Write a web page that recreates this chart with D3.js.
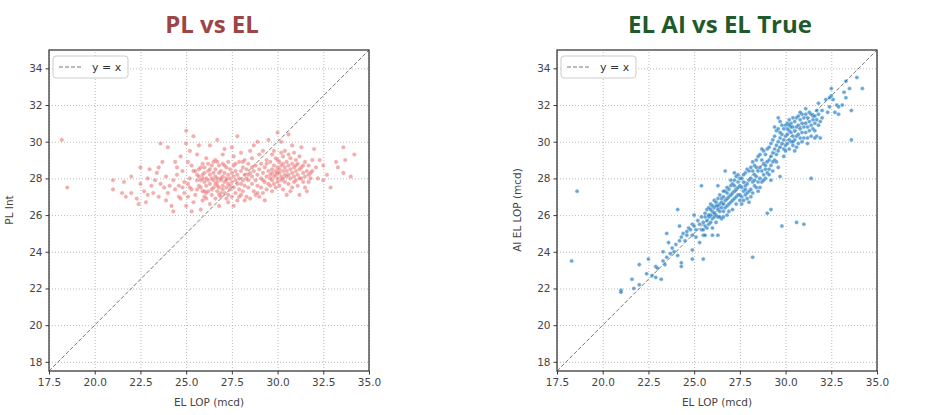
<!DOCTYPE html>
<html>
<head>
<meta charset="utf-8">
<script src="https://cdn.jsdelivr.net/npm/d3@7"></script>
<style>
  body { margin: 0; background: #fff; }
  svg text { font-family: "DejaVu Sans", sans-serif; }
</style>
</head>
<body>
<div id="chart"></div>
<script>
// ticks shared by both panels
var axisTicks = [17.5, 20.0, 22.5, 25.0, 27.5, 30.0, 32.5, 35.0];
var yTicks = [18, 20, 22, 24, 26, 28, 30, 32, 34];

// PL Int vs EL LOP (left panel), [EL LOP, PL Int]
var plPoints = [
  [18.2,30.1],[18.5,27.5],
  [21.0,27.9],[21.0,27.4],[21.5,27.2],[21.6,27.8],[21.7,27.0],[22.0,28.1],[22.0,27.2],
  [22.3,26.9],[22.4,26.6],[22.5,27.7],[22.5,28.6],[22.7,27.3],[22.8,26.7],[22.9,28.0],[22.9,27.1],[23.0,28.5],[23.1,27.6],
  [23.2,27.2],[23.3,27.9],[23.4,28.3],[23.5,27.0],[23.5,28.6],[23.6,29.9],[23.7,28.9],[23.8,27.5],[23.9,28.1],[23.9,26.8],[24.0,29.7],[24.0,27.2],[23.6,27.7],
  [24.1,27.6],[24.2,26.5],[24.3,26.2],[24.4,27.4],[24.4,28.9],[24.5,28.6],[24.5,28.2],[24.6,27.0],[24.7,29.2],[24.7,26.9],[24.8,28.4],[24.9,27.8],[24.9,27.2],[25.0,29.9],[25.0,26.5],[24.3,27.9],[24.6,27.6],[24.8,27.5],
  [25.0,30.6],[25.1,28.9],[25.1,27.7],[25.2,28.0],[25.2,29.5],[25.3,27.4],[25.3,26.2],[25.4,26.7],[25.4,30.3],[25.4,28.4],[25.5,27.1],[25.5,28.4],[25.1,27.0],[25.3,28.7],[25.2,27.5],
  [25.6,27.9],[25.6,29.3],[25.6,28.2],[25.7,28.1],[25.7,29.8],[25.7,27.6],[25.8,27.5],[25.8,26.3],[25.8,28.6],[25.9,28.8],[25.9,28.0],[25.9,26.8],[25.9,27.3],[26.0,27.3],[26.0,28.3],[25.6,27.4],[25.7,28.5],[25.8,27.9],[25.9,28.2],[26.0,27.8],
  [26.0,28.6],[26.1,27.6],[26.1,28.0],[26.1,29.1],[26.1,26.9],[26.2,27.9],[26.2,28.4],[26.2,27.3],[26.3,28.2],[26.3,26.6],[26.3,29.8],[26.3,27.7],[26.4,28.0],[26.4,28.7],[26.4,27.1],[26.5,27.5],[26.5,28.3],[26.5,27.9],[26.2,28.8],[26.4,27.4],[26.1,27.2],[26.3,28.5],[26.5,28.9],[26.0,27.0],
  [26.6,27.7],[26.6,28.1],[26.6,28.5],[26.6,26.9],[26.7,27.3],[26.7,28.0],[26.7,30.1],[26.7,27.8],[26.8,28.3],[26.8,26.5],[26.8,27.5],[26.8,28.7],[26.9,27.9],[26.9,27.2],[26.9,28.4],[27.0,27.6],[27.0,28.1],[27.0,29.3],[26.6,29.0],[26.7,28.9],[26.8,27.1],[26.9,27.0],[27.0,28.8],[26.7,27.6],[26.9,28.0],
  [27.1,27.8],[27.1,28.3],[27.1,27.2],[27.1,29.6],[27.2,28.0],[27.2,27.5],[27.2,28.6],[27.2,26.9],[27.3,27.7],[27.3,28.2],[27.3,28.9],[27.3,27.1],[27.4,28.0],[27.4,27.4],[27.4,28.5],[27.5,29.7],[27.5,27.8],[27.5,27.0],[27.5,28.3],[27.1,28.7],[27.2,27.9],[27.4,27.6],[27.3,26.7],[27.0,27.4],
  [27.6,28.1],[27.6,26.5],[27.6,27.5],[27.6,28.7],[27.7,27.9],[27.7,27.2],[27.7,28.4],[27.8,30.3],[27.8,27.7],[27.8,28.2],[27.8,26.8],[27.9,28.0],[27.9,27.4],[27.9,28.9],[28.0,27.7],[28.0,28.4],[28.0,27.1],[27.6,29.2],[27.7,28.8],[28.0,29.4],[27.9,27.0],
  [28.1,27.9],[28.1,28.6],[28.1,27.3],[28.2,28.2],[28.2,27.6],[28.2,29.0],[28.3,28.0],[28.3,27.0],[28.3,28.5],[28.4,27.5],[28.4,28.8],[28.4,27.9],[28.5,28.3],[28.5,26.9],[28.5,29.5],[28.2,26.8],[28.4,28.2],[28.1,28.9],
  [28.6,27.7],[28.6,28.1],[28.6,29.1],[28.7,27.3],[28.7,28.4],[28.7,29.8],[28.8,27.9],[28.8,28.7],[28.8,27.1],[28.9,28.2],[28.9,30.0],[28.9,27.6],[29.0,28.5],[29.0,27.0],[29.0,29.3],[28.6,28.6],[28.9,27.2],
  [29.1,28.0],[29.1,27.5],[29.1,28.8],[29.2,27.2],[29.2,28.3],[29.2,29.5],[29.3,26.8],[29.3,28.6],[29.3,27.8],[29.4,28.1],[29.4,27.4],[29.4,29.0],[29.5,30.1],[29.5,28.4],[29.5,27.7],[29.2,27.9],[29.4,28.8],
  [29.6,28.2],[29.6,27.6],[29.6,28.9],[29.7,28.5],[29.7,27.9],[29.7,29.3],[29.7,27.3],[29.8,28.1],[29.8,28.7],[29.8,27.7],[29.9,28.4],[29.9,29.1],[29.9,27.5],[30.0,28.0],[30.0,28.6],[30.0,30.5],[30.0,27.8],[29.6,28.0],[29.8,29.5],[29.9,28.2],[30.0,29.0],[29.7,28.3],
  [30.1,28.3],[30.1,27.6],[30.1,28.9],[30.2,28.1],[30.2,28.7],[30.2,30.0],[30.2,27.9],[30.3,28.4],[30.3,29.2],[30.3,27.4],[30.3,28.0],[30.4,28.6],[30.4,28.2],[30.4,29.5],[30.5,27.1],[30.5,28.4],[30.5,28.9],[30.1,28.5],[30.2,29.4],[30.4,27.8],[30.5,28.1],[30.3,28.8],[30.0,28.3],
  [30.6,30.4],[30.6,28.2],[30.6,28.7],[30.6,27.7],[30.7,28.5],[30.7,29.1],[30.7,28.0],[30.8,29.8],[30.8,28.3],[30.8,27.5],[30.8,28.8],[30.9,28.1],[30.9,28.6],[30.9,29.4],[31.0,27.9],[31.0,28.4],[31.0,29.0],[30.6,29.3],[30.7,27.3],[30.9,27.8],[31.0,28.7],
  [31.1,28.2],[31.1,28.8],[31.1,27.6],[31.2,27.1],[31.2,28.5],[31.2,29.2],[31.3,28.0],[31.3,28.6],[31.3,29.7],[31.4,28.3],[31.4,27.8],[31.5,28.9],[31.5,28.1],[31.5,27.5],[31.2,28.0],[31.4,28.7],
  [31.6,28.4],[31.6,27.3],[31.7,28.2],[31.7,28.7],[31.8,28.0],[31.8,28.3],[31.9,28.4],[31.9,29.0],[31.7,27.8],
  [32.0,29.6],[32.1,28.6],[32.3,29.0],[32.5,28.7],[32.5,27.9],[32.7,28.2],[32.9,27.5],[33.2,28.9],[33.3,28.6],[33.6,28.3],[33.6,29.7],[33.7,29.0],[34.0,28.1],[34.2,29.3],[32.2,28.0]
];

// AI EL LOP vs EL LOP (right panel), [EL LOP, AI EL LOP]
var aiPoints = [
  [18.3,23.5],[18.6,27.3],[21.0,21.9],[21.0,21.8],[21.6,22.5],[21.7,22.0],[22.0,22.2],[22.0,23.3],[22.4,22.8],[22.5,23.6],
  [22.7,22.7],[22.9,23.2],[22.9,22.6],[23.2,22.5],[23.0,23.1],[23.3,24.0],[23.3,23.5],[23.4,23.3],[23.5,25.0],[23.5,23.7],
  [23.6,24.5],[23.7,23.9],[23.8,24.2],[23.9,24.0],[24.0,24.4],[24.1,26.3],[24.1,23.8],[24.2,25.4],[24.2,24.6],[24.3,23.4],
  [24.3,23.2],[24.3,24.8],[24.4,25.0],[24.5,24.6],[24.6,25.1],[24.6,24.9],[24.7,25.3],[24.8,25.2],[24.9,24.1],[24.9,23.6],
  [24.9,25.5],[24.9,24.9],[25.0,25.4],[25.0,26.0],[25.1,25.2],[25.1,24.8],[25.2,25.7],[25.3,24.5],[25.3,25.5],[25.4,27.6],
  [25.4,25.9],[25.4,25.2],[25.5,23.6],[25.5,24.9],[26.0,24.9],[26.3,24.9],[28.2,23.7],[29.0,26.1],
  [25.5,25.6],[25.5,25.2],[25.6,25.9],[25.6,25.4],[25.6,26.1],[25.7,25.7],[25.7,25.3],[25.7,26.3],[25.8,25.9],[25.8,25.5],[25.8,26.4],[25.9,26.0],[25.9,25.6],[25.9,26.6],[26.0,26.2],[26.0,25.8],[26.0,25.3],[25.6,24.9],[25.8,26.0],[25.9,26.3],
  [26.1,26.4],[26.1,25.9],[26.1,26.8],[26.2,26.0],[26.2,26.5],[26.2,25.6],[26.3,26.3],[26.3,26.9],[26.3,25.9],[26.4,26.6],[26.4,26.2],[26.4,27.1],[26.5,26.4],[26.5,25.8],[26.5,26.9],[26.1,26.1],[26.2,26.7],[26.3,26.5],[26.4,25.9],[26.5,26.7],[26.0,26.5],[26.3,27.6],
  [26.6,26.6],[26.6,27.0],[26.6,26.2],[26.7,26.8],[26.7,26.4],[26.7,27.3],[26.8,26.9],[26.8,26.5],[26.8,27.5],[26.9,27.0],[26.9,26.6],[26.9,27.4],[27.0,27.1],[27.0,26.7],[27.0,27.6],[26.6,25.9],[26.7,28.4],[26.8,27.2],[26.9,26.2],[27.0,27.9],[26.6,27.3],[26.8,26.0],
  [27.1,27.2],[27.1,26.8],[27.1,27.7],[27.2,27.3],[27.2,26.9],[27.2,27.9],[27.3,27.4],[27.3,27.0],[27.3,28.1],[27.4,27.5],[27.4,27.1],[27.4,28.2],[27.5,27.6],[27.5,27.1],[27.5,26.8],[27.1,26.3],[27.2,28.3],[27.3,26.6],[27.4,27.8],[27.5,28.0],[27.2,27.6],
  [27.6,27.5],[27.6,27.0],[27.6,28.0],[27.7,27.3],[27.7,27.8],[27.7,26.8],[27.8,27.6],[27.8,27.1],[27.8,28.3],[27.9,27.7],[27.9,27.2],[27.9,28.5],[28.0,27.9],[28.0,27.3],[28.0,26.7],[27.6,26.6],[27.7,28.2],[27.9,26.9],[28.0,28.4],[27.8,27.4],
  [28.1,28.0],[28.1,27.4],[28.1,28.6],[28.2,27.8],[28.2,27.2],[28.2,28.9],[28.3,28.2],[28.3,27.6],[28.3,28.7],[28.4,28.1],[28.4,27.5],[28.4,29.0],[28.5,28.4],[28.5,27.8],[28.5,27.3],[28.1,27.0],[28.2,28.4],[28.4,28.6],[28.5,29.2],[28.3,27.9],
  [28.6,28.6],[28.6,28.0],[28.6,29.3],[28.7,28.4],[28.7,27.8],[28.7,29.0],[28.8,28.8],[28.8,28.2],[28.8,29.5],[28.9,28.5],[28.9,28.0],[28.9,29.3],[29.0,28.9],[29.0,28.3],[29.0,29.6],[28.6,27.5],[28.7,29.6],[28.9,28.7],[28.8,27.9],
  [29.1,29.0],[29.1,28.5],[29.1,29.7],[29.2,29.2],[29.2,28.7],[29.2,26.3],[29.2,27.9],[29.3,29.4],[29.3,28.9],[29.3,30.1],[29.4,29.6],[29.4,29.0],[29.4,30.3],[29.5,29.8],[29.5,29.3],[29.5,30.6],[29.1,28.2],[29.3,28.4],[29.5,28.9],[29.4,30.8],[29.2,29.9],
  [29.6,30.0],[29.6,29.5],[29.6,30.7],[29.6,28.6],[29.7,30.2],[29.7,29.7],[29.7,31.1],[29.7,28.1],[29.8,30.4],[29.8,29.9],[29.8,30.9],[29.8,25.4],[29.9,30.1],[29.9,29.6],[29.9,30.7],[30.0,30.3],[30.0,29.8],[30.0,30.9],[30.0,29.5],[29.6,31.3],[29.9,29.2],[29.7,30.5],
  [30.1,30.4],[30.1,29.9],[30.1,31.0],[30.2,30.6],[30.2,30.1],[30.2,31.2],[30.2,29.6],[30.3,30.5],[30.3,30.0],[30.3,31.0],[30.4,30.8],[30.4,30.3],[30.4,31.3],[30.4,29.8],[30.5,30.6],[30.5,30.1],[30.5,31.1],[30.1,30.7],[30.3,30.8],[30.5,29.5],[30.2,30.9],[30.4,30.0],
  [30.6,30.8],[30.6,30.3],[30.6,31.3],[30.6,25.6],[30.7,30.9],[30.7,30.4],[30.7,31.4],[30.8,30.7],[30.8,30.2],[30.8,31.2],[30.9,31.0],[30.9,30.5],[30.9,31.5],[31.0,30.8],[31.0,30.2],[31.0,31.3],[31.0,25.5],[30.7,29.9],[30.9,30.0],[30.8,31.6],[30.6,29.7],
  [31.1,31.0],[31.1,30.5],[31.1,31.5],[31.2,30.8],[31.2,30.2],[31.2,31.3],[31.3,31.1],[31.3,30.6],[31.3,31.6],[31.4,30.9],[31.4,30.3],[31.4,28.0],[31.5,31.2],[31.5,30.7],[31.5,31.4],[31.2,29.9],[31.4,31.5],[31.1,31.8],
  [31.6,31.0],[31.6,31.4],[31.6,30.6],[31.7,31.2],[31.7,30.3],[31.8,31.5],[31.8,30.9],[31.8,32.1],[31.9,31.1],[31.9,30.2],[32.0,31.7],[32.0,31.3],[31.7,31.7],[31.6,30.2],
  [32.3,31.6],[32.4,31.9],[32.4,32.4],[32.5,32.9],[32.5,32.5],[32.6,32.3],[32.7,31.6],[32.8,32.0],[32.9,31.5],[32.9,31.9],
  [33.2,32.7],[33.3,32.4],[33.3,33.3],[33.5,32.9],[33.6,31.7],[33.6,30.1],[33.9,33.5],[34.2,32.9],[33.1,32.0],[32.2,32.3]
];

var width = 936, height = 415;

var svg = d3.select("#chart")
  .append("svg")
    .attr("width", width)
    .attr("height", height);

var panels = [
  {left: 49, title: "PL vs EL", titleColor: "#9b4545", ylabel: "PL Int",
   data: plPoints, fill: "#e35f5f", stroke: "#f2a0a0", opacity: 0.5, ylabelX: 13},
  {left: 557, title: "EL AI vs EL True", titleColor: "#1f5a2a", ylabel: "AI EL LOP (mcd)",
   data: aiPoints, fill: "#2a5fb5", stroke: "#6fd6ee", opacity: 0.62, ylabelX: 521}
];

var plotTop = 50, plotSize = 320;

panels.forEach(function(p) {
  var x = d3.scaleLinear().domain([17.5, 35]).range([p.left, p.left + plotSize]);
  var y = d3.scaleLinear().domain([17.5, 35]).range([plotTop + plotSize + 1, plotTop]);

  var g = svg.append("g");

  // grid
  g.append("g")
    .attr("transform", "translate(0," + (plotTop + plotSize + 1) + ")")
    .call(d3.axisBottom(x).tickValues(axisTicks).tickSize(-(plotSize + 1)).tickFormat(""))
    .call(s => s.select(".domain").remove())
    .selectAll("line")
      .attr("stroke", "#bbb")
      .attr("stroke-dasharray", "1,2");

  g.append("g")
    .attr("transform", "translate(" + p.left + ",0)")
    .call(d3.axisLeft(y).tickValues(yTicks).tickSize(-plotSize).tickFormat(""))
    .call(s => s.select(".domain").remove())
    .selectAll("line")
      .attr("stroke", "#bbb")
      .attr("stroke-dasharray", "1,2");

  // y = x reference line
  g.append("line")
    .attr("x1", x(17.5)).attr("y1", y(17.5))
    .attr("x2", x(35)).attr("y2", y(35))
    .attr("stroke", "#777")
    .attr("stroke-width", 1)
    .attr("stroke-dasharray", "4,2");

  // points
  g.append("g")
    .selectAll("circle")
    .data(p.data)
    .enter()
    .append("circle")
      .attr("cx", d => x(d[0]))
      .attr("cy", d => y(d[1]))
      .attr("r", 1.8)
      .attr("fill", p.fill)
      .attr("fill-opacity", p.opacity)
      .attr("stroke", p.stroke)
      .attr("stroke-width", 0.7)
      .attr("stroke-opacity", 0.6);

  // frame
  g.append("rect")
    .attr("x", p.left).attr("y", plotTop)
    .attr("width", plotSize).attr("height", plotSize + 1)
    .attr("fill", "none")
    .attr("stroke", "#3a3a3a")
    .attr("stroke-width", 1.3);

  // axes
  var xAxis = g.append("g")
    .attr("transform", "translate(0," + (plotTop + plotSize + 1) + ")")
    .call(d3.axisBottom(x).tickValues(axisTicks).tickSize(3.5).tickPadding(4).tickFormat(d3.format(".1f")));
  var yAxis = g.append("g")
    .attr("transform", "translate(" + p.left + ",0)")
    .call(d3.axisLeft(y).tickValues(yTicks).tickSize(3.5).tickPadding(3));
  [xAxis, yAxis].forEach(function(a) {
    a.select(".domain").remove();
    a.selectAll("line").attr("stroke", "#3a3a3a");
    a.selectAll("text")
      .attr("fill", "#444")
      .style("font-size", "10.5px");
  });

  g.append("text")
    .attr("x", p.left + plotSize / 2)
    .attr("y", 406)
    .attr("text-anchor", "middle")
    .attr("fill", "#444")
    .style("font-size", "10.5px")
    .text("EL LOP (mcd)");

  g.append("text")
    .attr("transform", "translate(" + p.ylabelX + "," + (plotTop + plotSize / 2) + ") rotate(-90)")
    .attr("text-anchor", "middle")
    .attr("fill", "#444")
    .style("font-size", "10.5px")
    .text(p.ylabel);

  // title
  g.append("text")
    .attr("x", p.left + plotSize / 2 + 3)
    .attr("y", 33)
    .attr("text-anchor", "middle")
    .attr("fill", p.titleColor)
    .style("font-family", "'Open Sans', sans-serif")
    .style("font-weight", "bold")
    .style("font-size", "24px")
    .text(p.title);

  // legend
  var lg = g.append("g").attr("transform", "translate(" + (p.left + 4) + "," + (plotTop + 6) + ")");
  lg.append("rect")
    .attr("width", 75).attr("height", 22).attr("rx", 3)
    .attr("fill", "#fff").attr("fill-opacity", 0.8)
    .attr("stroke", "#ccc");
  lg.append("line")
    .attr("x1", 6).attr("x2", 29).attr("y1", 11).attr("y2", 11)
    .attr("stroke", "#777")
    .attr("stroke-dasharray", "4,2");
  lg.append("text")
    .attr("x", 39).attr("y", 15)
    .attr("fill", "#333")
    .style("font-size", "11px")
    .text("y = x");
});
</script>
</body>
</html>
